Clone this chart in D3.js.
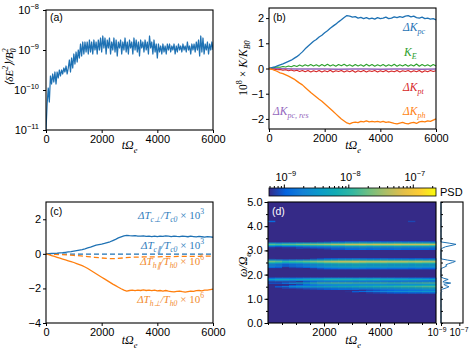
<!DOCTYPE html>
<html><head><meta charset="utf-8">
<script src="https://cdn.jsdelivr.net/npm/d3@7"></script>
<style>body{margin:0;background:#fff}svg{display:block}</style>
</head><body>
<svg id="fig" width="474" height="349"></svg>
<script>
// ---------------- DATA ----------------
const timeTicks = [0, 2000, 4000, 6000];
// (a) log10 <dE^2>/B0^2, every 40 time units from 0 to 6000
const aStep = 40;
const aLogE = [
-11.0,-10.35,-9.95,-10.3,-9.65,-9.85,-9.6,-9.8,-9.55,-9.85,
-9.55,-9.7,-9.5,-9.65,-9.5,-9.6,-9.45,-9.55,-9.4,-9.6,
-9.45,-9.25,-9.55,-9.2,-9.45,-9.1,-9.35,-9.05,-9.3,-9.0,
-9.2,-8.85,-9.15,-8.8,-9.1,-8.8,-9.05,-8.8,-9.1,-8.75,
-9.05,-8.8,-9.1,-8.75,-9.0,-8.8,-9.1,-8.75,-9.0,-8.7,
-9.05,-8.65,-8.95,-8.7,-9.1,-8.75,-8.95,-8.7,-9.1,-8.8,
-9.0,-8.7,-9.05,-8.75,-9.15,-8.8,-8.95,-8.75,-9.1,-8.8,
-9.0,-8.7,-9.05,-8.8,-9.1,-8.75,-8.95,-8.8,-9.1,-8.7,
-9.0,-8.75,-9.05,-8.8,-9.15,-8.75,-8.95,-8.8,-9.05,-8.75,
-9.0,-8.8,-9.1,-8.65,-8.95,-8.8,-9.1,-8.75,-9.05,-8.85,
-9.2,-8.85,-9.05,-8.9,-9.1,-8.85,-9.05,-8.9,-9.1,-8.85,
-9.0,-8.85,-9.05,-8.9,-9.0,-8.85,-9.1,-8.9,-9.05,-8.85,
-9.0,-8.9,-9.05,-8.85,-9.0,-8.9,-9.05,-8.8,-9.0,-8.9,
-9.1,-8.85,-9.0,-8.85,-9.05,-8.8,-9.0,-8.75,-9.15,-8.65,
-9.05,-8.7,-9.1,-8.85,-9.0,-8.8,-9.1,-8.85,-9.0,-8.8,
-9.0];
const aYTicks = [-11, -10, -9, -8];

// (b) 10^8 x K/K_B0, every 100 time units
const bStep = 100;
const bKpc = [
0,0.03,0.06,0.1,0.14,0.18,0.23,0.28,0.33,0.4,
0.47,0.56,0.66,0.78,0.88,0.98,1.08,1.15,1.25,1.32,
1.42,1.5,1.6,1.68,1.76,1.85,1.93,2.02,2.1,2.08,
2.04,2.06,2.0,2.03,1.98,2.02,1.97,2.0,1.96,2.02,
1.98,2.0,2.04,1.98,2.0,2.05,2.02,2.06,2.03,2.08,
2.1,2.05,2.08,2.02,2.0,2.04,1.98,2.0,1.96,1.98,
1.93];
const bKph = [
0,-0.03,-0.07,-0.12,-0.17,-0.2,-0.25,-0.3,-0.36,-0.42,
-0.5,-0.58,-0.65,-0.75,-0.85,-0.95,-1.04,-1.13,-1.22,-1.3,
-1.4,-1.5,-1.6,-1.7,-1.8,-1.9,-2.0,-2.08,-2.16,-2.2,
-2.15,-2.13,-2.15,-2.1,-2.12,-2.08,-2.12,-2.1,-2.12,-2.1,
-2.13,-2.1,-2.14,-2.12,-2.15,-2.18,-2.2,-2.17,-2.14,-2.18,
-2.2,-2.16,-2.14,-2.18,-2.12,-2.1,-2.12,-2.08,-2.1,-2.05,
-2.0];
const bKE = [
0,0.02,0.04,0.06,0.05,0.08,0.06,0.1,0.07,0.12,
0.08,0.14,0.09,0.15,0.1,0.16,0.1,0.15,0.09,0.16,
0.1,0.17,0.1,0.15,0.09,0.16,0.11,0.17,0.1,0.15,
0.09,0.16,0.1,0.15,0.09,0.17,0.1,0.16,0.09,0.15,
0.1,0.16,0.09,0.15,0.1,0.17,0.09,0.15,0.1,0.16,
0.09,0.15,0.1,0.18,0.09,0.16,0.1,0.15,0.09,0.16,
0.1];
const bKpt = [
0,-0.02,-0.03,-0.05,-0.04,-0.07,-0.05,-0.09,-0.06,-0.1,
-0.07,-0.12,-0.08,-0.13,-0.08,-0.14,-0.09,-0.13,-0.08,-0.14,
-0.09,-0.13,-0.07,-0.14,-0.09,-0.12,-0.08,-0.14,-0.09,-0.13,
-0.08,-0.15,-0.09,-0.13,-0.08,-0.14,-0.09,-0.12,-0.08,-0.14,
-0.09,-0.13,-0.08,-0.14,-0.1,-0.13,-0.08,-0.14,-0.09,-0.12,
-0.08,-0.14,-0.09,-0.13,-0.08,-0.15,-0.09,-0.13,-0.08,-0.12,
-0.09];
const bResStep = 500;
const bKres = [0,-0.01,-0.02,-0.02,-0.02,-0.03,-0.02,-0.02,-0.03,-0.02,-0.02,-0.03,-0.02];
const bYTicks = [-2, -1, 0, 1, 2];

// (c) temperature changes
const cStep = 100;
const cTcPerp = [
0,0.01,0.02,0.03,0.04,0.06,0.07,0.09,0.11,0.13,
0.16,0.19,0.22,0.25,0.29,0.34,0.39,0.45,0.5,0.53,
0.56,0.6,0.65,0.7,0.77,0.84,0.92,0.98,1.04,1.07,
1.05,1.04,1.06,1.03,1.02,1.04,1.01,1.03,1.0,1.02,
1.0,1.03,1.01,1.04,1.02,1.0,1.03,1.01,1.0,1.03,
1.01,0.99,1.02,1.0,0.98,1.01,0.99,0.97,1.0,0.98,
0.96];
const cThPerp = [
0,-0.05,-0.1,-0.15,-0.2,-0.25,-0.3,-0.35,-0.4,-0.45,
-0.5,-0.56,-0.62,-0.68,-0.76,-0.85,-0.95,-1.05,-1.15,-1.25,
-1.35,-1.45,-1.55,-1.65,-1.75,-1.84,-1.93,-2.02,-2.1,-2.15,
-2.12,-2.1,-2.13,-2.1,-2.12,-2.09,-2.12,-2.1,-2.13,-2.1,
-2.14,-2.12,-2.15,-2.12,-2.16,-2.18,-2.2,-2.17,-2.15,-2.19,
-2.21,-2.18,-2.15,-2.17,-2.13,-2.12,-2.14,-2.1,-2.1,-2.07,
-2.04];
const cParStepH = 250;
const cThPar = [0,-0.02,-0.04,-0.06,-0.09,-0.12,-0.16,-0.2,-0.24,-0.27,-0.28,-0.24,-0.2,-0.19,-0.18,-0.18,-0.17,-0.16,-0.16,-0.15,-0.15,-0.14,-0.14,-0.13,-0.13];
const cParStepC = 500;
const cTcPar = [0,-0.01,-0.02,-0.02,-0.02,-0.02,-0.02,-0.02,-0.02,-0.02,-0.02,-0.02,-0.02];
const cYTicks = [-4, -2, 0, 2];

// (d) spectrogram: time bins (centres), frequency rows, log10 PSD peaks, time envelopes
const dTimeBins = [125,375,625,875,1125,1375,1625,1875,2125,2375,2625,2875,3125,3375,3625,3875,4125,4375,4625,4875,5125,5375,5625,5875];
const dBinWidth = 250;
const dFreqStep = 0.05;
const dRowFreq  = [4.20, 3.35,3.30,3.25,3.20,3.15,3.10,3.05, 2.65,2.60,2.55,2.50,2.45,2.40,2.35,2.30,2.25, 1.85,1.80,1.75, 1.70,1.65,1.60, 1.55,1.50,1.45,1.40, 1.35,1.30,1.25];
const dRowPeak  = [-8.9, -8.9,-8.0,-7.25,-7.8,-8.4,-8.7,-8.95, -8.9,-8.2,-7.35,-7.65,-8.1,-8.4,-8.3,-8.6,-8.9, -8.6,-8.1,-8.5, -8.7,-7.85,-8.6, -8.4,-8.0,-8.3,-8.7, -8.9,-8.6,-8.95];
const dRowGroup = [6, 0,0,0,0,0,0,0, 1,1,1,1,1,1,1,1,1, 2,2,2, 3,3,3, 4,4,4,4, 5,5,5];
const dGroupEnv = [
 [-0.5,-0.6,-0.5,-0.5,-0.4,-0.35,-0.3,-0.25,-0.2,-0.1,-0.1,0,0,0.05,0,0.05,0,0,0.05,0,0,0,0,-0.05],
 [-0.3,-0.4,-0.6,-0.5,-0.45,-0.35,-0.25,-0.15,-0.05,0,0.05,0.05,0.1,0.05,0,0,0.05,0,0,0,-0.05,0,-0.05,-0.05],
 [-0.3,-0.2,-0.2,-0.25,-0.2,-0.15,-0.1,-0.1,0,0,0,0,-0.05,0,-0.05,0,-0.1,-0.1,-0.15,-0.15,-0.2,-0.2,-0.25,-0.3],
 [-1.2,-1.2,-1.0,-0.8,-0.5,-0.3,-0.15,0,0,0.05,0.05,0.05,0,0,0,0,0,-0.05,-0.05,0,0,0,0.05,0.05],
 [-1.2,-1.0,-0.8,-0.6,-0.5,-0.45,-0.4,-0.35,-0.3,-0.25,-0.2,-0.2,-0.15,-0.1,-0.1,-0.05,0,0,0.05,0.1,0.1,0.15,0.2,0.2],
 [-1.5,-1.5,-1.5,-1.5,-1.5,-1.5,-1.5,-1.5,-1.2,-1.0,-0.8,-0.6,-0.4,-0.3,-0.2,-0.15,-0.1,-0.05,0,0,0.05,0.05,0.1,0.1],
 [0,-1,-1,-1,-1,-1,-1,-1,-1,-1,-1,-1,-1,-1,-1,-1,-1,-1,-1,-1,-0.2,-1,-1,-1]
];
const dBackground = -9.3;
const dYTicks = [0,1,2,3,4,5];
const dXLabels = [2000, 4000];
const psdDomainLog = [-9.23, -6.64];
const psdTicks = [1e-9, 1e-8, 1e-7];
const sideTicks = [1e-9, 1e-7];

// parula colormap stops
const parula = ["#352a87","#0364df","#1481d6","#0b9bca","#12acb4","#33b8a1","#71bf80","#acbe67","#e1be4b","#fdcd34","#f9fb0e"];

// colours
const C = {blue:"#1f72b4", orange:"#ff7f0e", green:"#2ca02c", red:"#d62728", purple:"#9467bd", lblue:"#2f7dbd", lorange:"#f28a2e"};

// ---------------- HELPERS ----------------
const sans = '"Liberation Sans",Arial,sans-serif';
const serif = '"Liberation Serif","Times New Roman",serif';
const svg = d3.select("#fig").attr("font-family", sans);
const fmtInt = d3.format("d");
function rich(sel, parts, fs){
  let cur = 0;
  parts.forEach(p => {
    const [s, m, dx] = p;
    const target = m === "sub" ? fs*0.3 : m === "sup" ? -fs*0.42 : 0;
    const t = sel.append("tspan").text(s).attr("dy", target - cur).attr("font-size", m === "n" ? fs : fs*0.7);
    if (dx) t.attr("dx", dx);
    if (p[3]) t.attr("font-style", p[3]);
    cur = target;
  });
  return sel;
}
function styleAxis(g){
  g.select(".domain").remove();
  g.selectAll(".tick line").attr("stroke", "#000").attr("stroke-width", 1);
  g.selectAll(".tick text").attr("font-size", 11).attr("fill", "#000").attr("font-family", sans);
}
function frame(x0, x1, y0, y1){
  svg.append("rect").attr("x", x0).attr("y", y0).attr("width", x1-x0).attr("height", y1-y0)
    .attr("fill", "none").attr("stroke", "#000").attr("stroke-width", 1.1);
}
function xTitle(cx, y){
  const t = svg.append("text").attr("x", cx).attr("y", y).attr("text-anchor", "middle").attr("font-family", serif).attr("font-style", "italic");
  rich(t, [["tΩ","n"],["e","sub"]], 12);
}
function panelLabel(x, y, s, col){
  svg.append("text").attr("x", x).attr("y", y).attr("font-size", 10.5).attr("fill", col || "#000").text(s);
}
function supLabel(x, y, exp, fs, anchor){
  const t = svg.append("text").attr("x", x).attr("y", y).attr("text-anchor", anchor).attr("font-size", fs);
  t.append("tspan").text("10");
  t.append("tspan").text("−" + exp).attr("font-size", fs*0.68).attr("dy", -fs*0.45);
}
function lineSeries(g, xs, ys, vals, step, color, width, dash){
  const ln = d3.line().x((d,i) => xs(i*step)).y(d => ys(d));
  const p = g.append("path").datum(vals).attr("d", ln).attr("fill", "none").attr("stroke", color).attr("stroke-width", width).attr("stroke-linejoin", "round");
  if (dash) p.attr("stroke-dasharray", dash);
}

// ---------------- PANEL (a) ----------------
{
  const x = d3.scaleLinear().domain([0, 6000]).range([46, 213]);
  const y = d3.scaleLinear().domain([-11, -8]).range([130, 10]);
  const g = svg.append("g");
  g.append("defs").append("clipPath").attr("id", "clipA").append("rect").attr("x", 46).attr("y", 10).attr("width", 167).attr("height", 120);
  const lg = g.append("g").attr("clip-path", "url(#clipA)");
  lineSeries(lg, x, y, aLogE, aStep, C.blue, 1.25);
  const ax = svg.append("g").attr("transform", "translate(0,130)").call(d3.axisBottom(x).tickValues(timeTicks).tickSize(3).tickPadding(2).tickFormat(fmtInt));
  styleAxis(ax);
  const ay = svg.append("g").attr("transform", "translate(46,0)").call(d3.axisLeft(y).tickValues(aYTicks).tickSize(3).tickFormat(""));
  styleAxis(ay);
  aYTicks.forEach(v => supLabel(39, y(v) + 4, Math.abs(v), 11, "end"));
  frame(46, 213, 10, 130);
  panelLabel(50, 21, "(a)");
  xTitle(129.5, 149);
  const yl = svg.append("text").attr("transform", "translate(13,67) rotate(-90)").attr("text-anchor", "middle").attr("font-family", serif).attr("font-style", "italic");
  rich(yl, [["⟨δE","n"],["2","sup"],["⟩/B","n"],["0","sub"],["2","sup",-4]], 11);
}

// ---------------- PANEL (b) ----------------
{
  const x = d3.scaleLinear().domain([0, 6000]).range([269, 436]);
  const y = d3.scaleLinear().domain([-2.4, 2.4]).range([129, 8]);
  const g = svg.append("g");
  lineSeries(g, x, y, bKres, bResStep, C.purple, 1.3);
  lineSeries(g, x, y, bKE, bStep, C.green, 1.1);
  lineSeries(g, x, y, bKpt, bStep, C.red, 1.1);
  lineSeries(g, x, y, bKpc, bStep, C.blue, 1.3);
  lineSeries(g, x, y, bKph, bStep, C.orange, 1.3);
  const ax = svg.append("g").attr("transform", "translate(0,129)").call(d3.axisBottom(x).tickValues(timeTicks).tickSize(3).tickPadding(2).tickFormat(fmtInt));
  styleAxis(ax);
  const ay = svg.append("g").attr("transform", "translate(269,0)").call(d3.axisLeft(y).tickValues(bYTicks).tickSize(3).tickPadding(2).tickFormat(d => d < 0 ? "−" + Math.abs(d) : d));
  styleAxis(ay);
  frame(269, 436, 8, 129);
  panelLabel(273, 21, "(b)");
  xTitle(353, 149);
  const yl = svg.append("text").attr("transform", "translate(247,68) rotate(-90)").attr("text-anchor", "middle").attr("font-family", serif);
  rich(yl, [["10","n",0,"normal"],["8","sup",0,"normal"],[" × ","n",0,"normal"],["K/K","n",0,"italic"],["B0","sub",0,"italic"]], 11.5);
  const lab = (xx, yy, parts, col, anchor) => {
    const t = svg.append("text").attr("x", xx).attr("y", yy).attr("fill", col).attr("font-family", serif).attr("font-style", "italic").attr("text-anchor", anchor || "start");
    rich(t, parts, 11.5);
  };
  lab(403, 31, [["ΔK","n"],["pc","sub"]], C.blue);
  lab(404, 56, [["K","n"],["E","sub"]], C.green);
  lab(403, 91, [["ΔK","n"],["pt","sub"]], C.red);
  lab(403, 115, [["ΔK","n"],["ph","sub"]], C.orange);
  lab(273, 115, [["ΔK","n"],["pc, res","sub"]], C.purple);
}

// ---------------- PANEL (c) ----------------
{
  const x = d3.scaleLinear().domain([0, 6000]).range([46, 213]);
  const y = d3.scaleLinear().domain([-4, 3]).range([323, 202]);
  const g = svg.append("g");
  lineSeries(g, x, y, cTcPar, cParStepC, C.blue, 1.3, "5,3");
  lineSeries(g, x, y, cThPar, cParStepH, C.orange, 1.3, "5,3");
  lineSeries(g, x, y, cTcPerp, cStep, C.blue, 1.3);
  lineSeries(g, x, y, cThPerp, cStep, C.orange, 1.3);
  const ax = svg.append("g").attr("transform", "translate(0,323)").call(d3.axisBottom(x).tickValues(timeTicks).tickSize(3).tickPadding(2).tickFormat(fmtInt));
  styleAxis(ax);
  const ay = svg.append("g").attr("transform", "translate(46,0)").call(d3.axisLeft(y).tickValues(cYTicks).tickSize(3).tickPadding(2).tickFormat(d => d < 0 ? "−" + Math.abs(d) : d));
  styleAxis(ay);
  frame(46, 213, 202, 323);
  panelLabel(50, 215, "(c)");
  xTitle(129.5, 344);
  const lab = (yy, parts, col) => {
    const t = svg.append("text").attr("x", 204).attr("y", yy).attr("fill", col).attr("font-family", serif).attr("font-style", "italic").attr("text-anchor", "end");
    rich(t, parts, 11);
  };
  lab(219, [["ΔT","n"],["c⊥","sub"],["/T","n"],["c0","sub"],[" × 10","n",0,"normal"],["3","sup",0,"normal"]], C.lblue);
  lab(249, [["ΔT","n"],["c∥","sub"],["/T","n"],["c0","sub"],[" × 10","n",0,"normal"],["3","sup",0,"normal"]], C.lblue);
  lab(265, [["ΔT","n"],["h∥","sub"],["/T","n"],["h0","sub"],[" × 10","n",0,"normal"],["6","sup",0,"normal"]], C.lorange);
  lab(303, [["ΔT","n"],["h⊥","sub"],["/T","n"],["h0","sub"],[" × 10","n",0,"normal"],["6","sup",0,"normal"]], C.lorange);
}

// ---------------- PANEL (d) ----------------
{
  const x = d3.scaleLinear().domain([0, 6000]).range([268, 436]);
  const y = d3.scaleLinear().domain([0, 5]).range([323, 202]);
  const cmap = d3.scaleLinear().domain(parula.map((c,i) => psdDomainLog[0] + i*(psdDomainLog[1]-psdDomainLog[0])/(parula.length-1))).range(parula).clamp(true);
  const g = svg.append("g");
  g.append("rect").attr("x", 268).attr("y", 202).attr("width", 168).attr("height", 121).attr("fill", cmap(dBackground));
  const cells = [];
  dRowFreq.forEach((f, r) => {
    dTimeBins.forEach((t, c) => {
      cells.push({t, f, v: dRowPeak[r] + dGroupEnv[dRowGroup[r]][c]});
    });
  });
  g.selectAll("rect.cell").data(cells.filter(d => d.v > dBackground)).enter().append("rect")
    .attr("x", d => x(d.t - dBinWidth/2)).attr("width", d => x(d.t + dBinWidth/2) - x(d.t - dBinWidth/2) + 0.3)
    .attr("y", d => y(d.f + dFreqStep/2)).attr("height", d => y(d.f - dFreqStep/2) - y(d.f + dFreqStep/2) + 0.2)
    .attr("fill", d => cmap(d.v));
  // axes
  const minorX = d3.range(0, 6001, 500);
  const ax = svg.append("g").attr("transform", "translate(0,323)").call(d3.axisBottom(x).tickValues(minorX).tickSize(2).tickFormat(""));
  styleAxis(ax);
  const ax2 = svg.append("g").attr("transform", "translate(0,323)").call(d3.axisBottom(x).tickValues(dXLabels).tickSize(3.5).tickPadding(1.5).tickFormat(fmtInt));
  styleAxis(ax2);
  const ay = svg.append("g").attr("transform", "translate(268,0)").call(d3.axisLeft(y).tickValues(d3.range(0, 5.01, 0.5)).tickSize(2).tickFormat(""));
  styleAxis(ay);
  const ay2 = svg.append("g").attr("transform", "translate(268,0)").call(d3.axisLeft(y).tickValues(dYTicks).tickSize(3.5).tickPadding(2));
  styleAxis(ay2);
  frame(268, 436, 202, 323);
  panelLabel(272, 215, "(d)", "#fff");
  xTitle(353, 344);
  const yl = svg.append("text").attr("transform", "translate(247,265) rotate(-90)").attr("text-anchor", "middle").attr("font-family", serif).attr("font-style", "italic");
  rich(yl, [["ω/Ω","n"],["e","sub"]], 12);

  // colour bar
  const cb = d3.scaleLog().domain(psdDomainLog.map(v => Math.pow(10, v))).range([269, 436]);
  const grad = svg.append("defs").append("linearGradient").attr("id", "parula");
  parula.forEach((c, i) => grad.append("stop").attr("offset", (i/(parula.length-1)*100) + "%").attr("stop-color", c));
  svg.append("rect").attr("x", 269).attr("y", 188).attr("width", 167).attr("height", 8).attr("fill", "url(#parula)").attr("stroke", "#000").attr("stroke-width", 0.8);
  const minorCb = [];
  [-10, -9, -8, -7].forEach(e => { for (let k = 2; k <= 9; k++) { const v = k * Math.pow(10, e); if (v > cb.domain()[0] && v < cb.domain()[1]) minorCb.push(v); } });
  const ac = svg.append("g").attr("transform", "translate(0,188)").call(d3.axisTop(cb).tickValues(minorCb).tickSize(2).tickFormat(""));
  styleAxis(ac);
  const ac2 = svg.append("g").attr("transform", "translate(0,188)").call(d3.axisTop(cb).tickValues(psdTicks).tickSize(3.5).tickFormat(""));
  styleAxis(ac2);
  psdTicks.forEach(v => supLabel(cb(v) + 2, 181, Math.round(-Math.log10(v)), 11, "middle"));
  svg.append("text").attr("x", 440).attr("y", 196).attr("font-size", 11).text("PSD");

  // side spectrum (time-averaged PSD of each frequency row)
  const sx = d3.scaleLog().domain([1e-9, Math.pow(10, -6.6)]).range([441, 463]).clamp(true);
  const sideFreqs = d3.range(0, 5.0001, dFreqStep).map(f => Math.round(f*100)/100);
  const side = sideFreqs.map(f => {
    const r = dRowFreq.findIndex(q => Math.abs(q - f) < 1e-6);
    if (r < 0) return {f, p: Math.pow(10, dBackground)};
    const env = dGroupEnv[dRowGroup[r]];
    return {f, p: d3.mean(env, e => Math.pow(10, dRowPeak[r] + e))};
  });
  svg.append("path").datum(side).attr("d", d3.line().x(d => sx(d.p)).y(d => y(d.f)))
    .attr("fill", "none").attr("stroke", C.blue).attr("stroke-width", 1);
  const sy = svg.append("g").attr("transform", "translate(441,0)").call(d3.axisRight(y).tickValues(d3.range(0, 5.01, 0.5)).tickSize(2).tickFormat(""));
  styleAxis(sy);
  const sxa = svg.append("g").attr("transform", "translate(0,323)").call(d3.axisBottom(sx).tickValues(sideTicks).tickSize(3).tickFormat(""));
  styleAxis(sxa);
  supLabel(437, 336, 9, 10, "middle");
  supLabel(459, 336, 7, 10, "middle");
  frame(441, 463, 202, 323);
}
</script>
</body></html>
